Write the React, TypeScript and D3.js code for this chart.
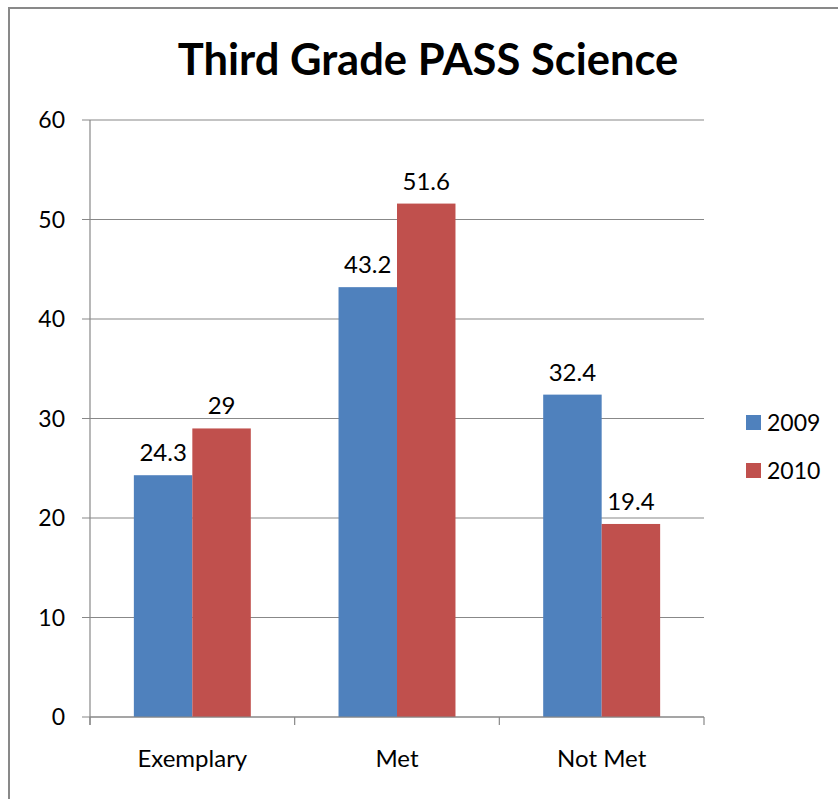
import React from "react";
import * as d3 from "d3";

const categories = ["Exemplary", "Met", "Not Met"];
const seriesNames = ["2009", "2010"];
const values2009 = [24.3, 43.2, 32.4];
const values2010 = [29, 51.6, 19.4];
const yTicks = [0, 10, 20, 30, 40, 50, 60];
const colors = ["#4F81BD", "#C0504D"];

export default function App() {
  const W = 838, H = 799;
  const left = 90, right = 704, top = 120, bottom = 717;
  const x = d3.scaleBand<string>().domain(categories).range([left, right]);
  const y = d3.scaleLinear().domain([0, 60]).range([bottom, top]);
  const bw = x.bandwidth() / 3.5;
  const series = [values2009, values2010];
  const font = "Lato, Carlito, Calibri, sans-serif";
  return (
    <svg width={W} height={H} style={{ position: "absolute", left: 0, top: 0 }} fontFamily={font}>
      <rect x={0} y={0} width={W} height={H} fill="#fff" />
      <rect x={9} y={8} width={W + 10} height={H + 10} fill="none" stroke="#898989" strokeWidth={2} />
      <text x={428} y={75} textAnchor="middle" fontSize={43.5} fontWeight="bold" fill="#000">
        Third Grade PASS Science
      </text>
      {yTicks.map((t) => (
        <g key={t}>
          <line x1={left - 8} x2={right} y1={y(t)} y2={y(t)} stroke="#888" strokeWidth={1.2} />
          <text x={65} y={y(t) + 8} textAnchor="end" fontSize={23} fill="#000">{t}</text>
        </g>
      ))}
      {categories.map((c, i) => (
        <g key={c}>
          {series.map((vals, s) => {
            const bx = (x(c) as number) + 0.75 * bw + s * bw;
            return (
              <g key={s}>
                <rect x={bx} y={y(vals[i])} width={bw} height={bottom - y(vals[i])} fill={colors[s]} />
                <text x={bx + bw / 2} y={y(vals[i]) - 14} textAnchor="middle" fontSize={24} fill="#000">
                  {vals[i]}
                </text>
              </g>
            );
          })}
          <text x={(x(c) as number) + x.bandwidth() / 2} y={767} textAnchor="middle" fontSize={24} fill="#000">{c}</text>
        </g>
      ))}
      <line x1={left} x2={left} y1={top} y2={bottom + 8} stroke="#888" strokeWidth={1.2} />
      <line x1={left} x2={right} y1={bottom} y2={bottom} stroke="#888" strokeWidth={1.2} />
      {[...categories.map((c) => x(c) as number), right].map((tx, i) => (
        <line key={i} x1={tx} x2={tx} y1={bottom} y2={bottom + 8} stroke="#888" strokeWidth={1.2} />
      ))}
      {seriesNames.map((n, i) => (
        <g key={n}>
          <rect x={746} y={415 + i * 48} width={15} height={15} fill={colors[i]} />
          <text x={767} y={431 + i * 48} fontSize={23} fill="#000">{n}</text>
        </g>
      ))}
    </svg>
  );
}
